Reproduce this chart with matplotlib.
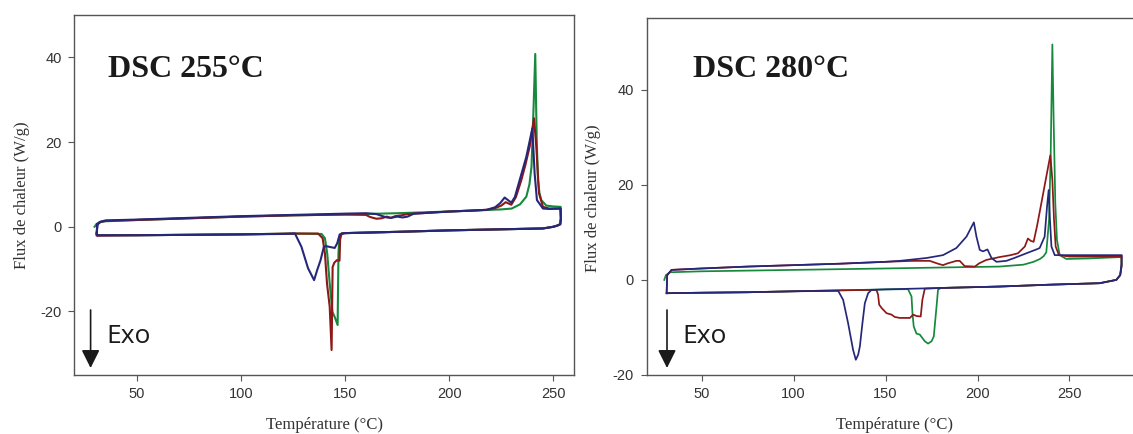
import matplotlib
matplotlib.use("Agg")
import matplotlib.pyplot as plt
from matplotlib.patches import FancyArrowPatch

plt.rcParams["axes.unicode_minus"] = False

# DSC loops, (temperature degC, heat flow W/g)
# heating branch first, then the isotherm drop, then cooling back to 30 degC

GREEN_255 = [
    (29.7, 0.0), (30.5, 0.6), (32.0, 1.1), (35, 1.3), (50, 1.6), (75, 2.0), (100, 2.4),
    (125, 2.7), (150, 2.9), (175, 3.2), (200, 3.6), (215, 3.9), (225, 4.1), (230, 4.3),
    (234, 5.3), (237, 7.1), (238.5, 10.0), (239.5, 14.2), (240.5, 28.3), (241.3, 40.8),
    (242.0, 20.5), (242.6, 11.0), (243.3, 8.0), (244.2, 6.3), (246.6, 5.0), (250, 4.8),
    (253.5, 4.7), (253.6, 2.0), (253.3, 0.6), (252, 0.3), (250, 0.0), (245, -0.4),
    (225, -0.6), (200, -0.85), (175, -1.2), (150, -1.5), (148.5, -1.5), (147.2, -2.5),
    (146.8, -6.3), (146.4, -23.2), (145.0, -21.3), (143.9, -20.1), (142.6, -13.4),
    (141.4, -6.3), (140.3, -2.7), (138.7, -1.7), (125, -1.6), (100, -1.8), (75, -1.9),
    (50, -2.0), (31, -2.0),
]
RED_255 = [
    (30.7, -2.0), (31, 0.5), (32.5, 1.1), (35, 1.4), (50, 1.6), (75, 2.0), (100, 2.4),
    (125, 2.7), (150, 2.9), (160, 2.8), (162, 2.3), (165, 1.9), (167.5, 2.0), (170, 2.4),
    (172, 2.1), (174, 2.5), (177, 2.7), (180, 3.0), (190, 3.3), (200, 3.6), (210, 3.8),
    (218, 4.0), (222, 4.4), (225, 5.0), (227.1, 5.8), (229.8, 5.2), (232, 7.0),
    (234.6, 11.0), (236.5, 14.5), (238.6, 18.9), (240.7, 25.6), (241.8, 18.9),
    (243.1, 7.9), (245, 4.7), (248, 4.3), (253.3, 4.3), (253.6, 2.0), (253.3, 0.6),
    (252, 0.3), (250, 0.0), (245, -0.4), (225, -0.6), (200, -0.85), (175, -1.2),
    (150, -1.5), (148.3, -1.6), (147.6, -3.0), (147.3, -8.0), (146.0, -7.9),
    (144.8, -8.5), (144.0, -9.5), (143.5, -29.1), (142.6, -18.9), (141.3, -13.4),
    (140.3, -6.3), (139.2, -2.7), (137, -1.6), (125, -1.6), (100, -1.8), (75, -1.9),
    (50, -2.0), (31, -2.1), (30.7, -1.6),
]
BLUE_255 = [
    (30.7, -1.8), (31, 0.6), (32.5, 1.2), (35, 1.5), (50, 1.7), (75, 2.1), (100, 2.5),
    (125, 2.8), (150, 3.1), (160, 3.2), (165, 3.0), (168, 2.5), (170, 2.2), (172, 2.1),
    (175, 2.4), (177.6, 2.2), (180, 2.4), (183, 3.1), (190, 3.3), (200, 3.6), (210, 3.8),
    (218, 4.0), (222, 4.6), (224.5, 5.6), (226.6, 6.9), (229.8, 5.7), (231.5, 7.0),
    (233.8, 11.0), (237, 16.5), (239.9, 23.2), (241, 12.6), (242.1, 6.3), (245, 4.3),
    (248, 4.2), (253.5, 4.3), (253.6, 2.0), (253.3, 0.6), (252, 0.3), (250, 0.0),
    (245, -0.4), (225, -0.6), (200, -0.85), (175, -1.2), (150, -1.5), (147.4, -1.8),
    (146.2, -3.9), (145, -5.0), (143, -4.8), (141.1, -4.6), (139.8, -4.7), (138.2, -7.9),
    (136.6, -10.2), (135.1, -12.6), (132.2, -9.8), (129, -4.7), (125.9, -1.6),
    (120, -1.7), (100, -1.8), (75, -1.9), (50, -2.0), (31, -2.0), (30.7, -1.6), (31, 0.6),
]

GREEN_280 = [
    (29.6, 0.0), (30.5, 1.0), (32.7, 1.6), (50, 1.8), (100, 2.1), (150, 2.4), (180, 2.6),
    (212, 2.8), (225, 3.2), (230.5, 3.8), (234, 4.4), (236, 5.0), (237.4, 5.8),
    (238.9, 12.6), (239.8, 26.6), (240.7, 49.5), (241.4, 33.6), (242.3, 16.1),
    (243.2, 8.4), (244.7, 5.2), (248.3, 4.4), (260, 4.5), (278.2, 4.8), (278.4, 3.0),
    (277.6, 1.0), (275.5, 0.0), (266.4, -0.7), (240, -1.0), (212, -1.4), (180, -1.7),
    (178.5, -2.1), (177.7, -5.6), (176.2, -11.9), (175, -12.9), (173.1, -13.4),
    (171.3, -12.9), (168.6, -11.5), (166.8, -11.3), (165.3, -9.8), (164.6, -7.0),
    (164.1, -3.5), (162.2, -1.95), (150, -2.0), (125, -2.2), (100, -2.4), (75, -2.6),
    (50, -2.7), (31, -2.8),
]
RED_280 = [
    (30.9, -2.8), (31.2, 1.0), (33.6, 2.1), (50, 2.4), (75, 2.8), (100, 3.1), (125, 3.4),
    (150, 3.8), (165, 4.0), (174, 4.0), (178.5, 3.4), (181.2, 3.1), (184, 3.5),
    (188.5, 4.0), (190.3, 4.0), (193, 2.9), (198.5, 2.8), (201, 3.5), (204.8, 4.2),
    (212, 4.8), (218, 5.2), (222, 5.6), (225.7, 7.0), (227.4, 8.7), (229, 8.2),
    (230.5, 8.0), (232.3, 11.2), (234.7, 16.1), (237.4, 21.7), (239.6, 26.2),
    (240.7, 21.0), (241.6, 12.6), (242.5, 7.0), (244.3, 5.2), (250, 4.9), (278.3, 4.9),
    (278.4, 3.0), (277.6, 1.0), (275.5, 0.0), (266.4, -0.7), (240, -1.0), (212, -1.4),
    (180, -1.7), (171.3, -1.85), (170, -4.2), (169.1, -7.7), (166.8, -7.6), (165, -7.3),
    (163.2, -8.0), (157.7, -8.0), (155, -7.8), (153.2, -7.3), (150.5, -7.0),
    (147.8, -5.9), (146.5, -5.2), (145.9, -3.1), (145, -2.1), (125, -2.2), (100, -2.4),
    (75, -2.6), (50, -2.7), (31, -2.8),
]
BLUE_280 = [
    (30.9, -2.8), (31.2, 1.0), (33.6, 2.1), (50, 2.4), (75, 2.8), (100, 3.1), (125, 3.4),
    (150, 3.8), (157.7, 4.0), (172.2, 4.6), (181.2, 5.2), (188.5, 6.7), (194, 9.1),
    (198, 12.1), (199.4, 9.1), (201.2, 6.3), (203, 6.0), (205.4, 6.4), (207.6, 4.6),
    (210.3, 3.8), (215.7, 4.0), (220, 4.6), (226.6, 5.6), (232, 6.4), (233.8, 6.7),
    (236.5, 9.1), (237.8, 15.4), (238.7, 18.9), (239.4, 12.6), (240.2, 7.0), (242, 5.2),
    (250, 5.2), (278.5, 5.2), (278.3, 3.5), (277.6, 1.0), (275.5, 0.0), (266.4, -0.7),
    (240, -1.0), (212, -1.4), (180, -1.7), (150, -2.0), (142.3, -2.1), (140.5, -2.8),
    (138.7, -4.9), (137.4, -9.1), (136, -14.0), (135.1, -15.7), (133.8, -16.8),
    (132.3, -14.7), (129.6, -9.1), (126.9, -4.2), (124.2, -2.3), (100, -2.4), (75, -2.6),
    (50, -2.7), (30.9, -2.8),
]

PANELS = [
    ("DSC 255\u00b0C", [GREEN_255, RED_255, BLUE_255], (20, 260), (-35, 50)),
    ("DSC 280\u00b0C", [GREEN_280, RED_280, BLUE_280], (20, 290), (-20, 55)),
]
COLORS = ["#16893c", "#8e1717", "#25287a"]
X_TICKS = [50, 100, 150, 200, 250]
Y_TICKS = [-20, 0, 20, 40]

W, H = 1133, 434
fig = plt.figure(figsize=(W / 100, H / 100), dpi=100)

# axes boxes in pixels: left, top, right, bottom
boxes = [(74.4, 15.0, 574.2, 375.0), (646.6, 18.3, 1143.0, 375.0)]
title_px = [(108.4, 76.7), (693.4, 76.7)]
exo_px = [(106.5, 343.3), (682.0, 343.3)]
arrow_x = [90.6, 667.0]
lws = [1.5, 1.25]

for i, (title, curves, xlim, ylim) in enumerate(PANELS):
    l, t, r, b = boxes[i]
    ax = fig.add_axes([l / W, 1 - b / H, (r - l) / W, (b - t) / H])
    for curve, color in zip(curves, COLORS):
        xs = [p[0] for p in curve]
        ys = [p[1] for p in curve]
        ax.plot(xs, ys, color=color, lw=lws[i], solid_joinstyle="round")
    ax.set_xlim(*xlim)
    ax.set_ylim(*ylim)
    ax.set_xticks(X_TICKS)
    ax.set_yticks(Y_TICKS)
    ax.tick_params(direction="out", length=4, width=0.8, color="#555555",
                   labelsize=10.5, labelcolor="#333333", pad=5)
    for lab in ax.get_xticklabels() + ax.get_yticklabels():
        lab.set_fontfamily("Liberation Sans")
    for side, sp in ax.spines.items():
        sp.set_color("#555555")
        sp.set_linewidth(1.0)
    if i == 1:
        ax.spines["right"].set_visible(False)

    ax.set_xlabel("Température (°C)", family="Liberation Serif", fontsize=12,
                  color="#333333", va="center")
    ax.xaxis.set_label_coords(0.5, (b - 425) / (b - t))
    ax.set_ylabel("Flux de chaleur (W/g)", family="Liberation Serif", fontsize=12,
                  color="#333333", va="center")
    yl_x = 22.0 if i == 0 else 593.3
    yl_y = 195.0 if i == 0 else 198.0
    ax.yaxis.set_label_coords((yl_x - l) / (r - l), (b - yl_y) / (b - t))

    tx, ty = title_px[i]
    fig.text(tx / W, 1 - ty / H, title, family="Liberation Serif", weight="bold",
             fontsize=23, color="#1a1a1a", va="baseline", ha="left")
    ex, ey = exo_px[i]
    fig.text(ex / W, 1 - ey / H, "Exo", family="Open Sans", fontsize=19,
             color="#1a1a1a", va="baseline", ha="left")
    fig.add_artist(FancyArrowPatch(
        (arrow_x[i], H - 310), (arrow_x[i], H - 368), transform=None,
        arrowstyle="-|>,head_length=1.0,head_width=0.5", mutation_scale=11,
        color="#1a1a1a", lw=1.2, shrinkA=0, shrinkB=0))

fig.savefig("out.png", dpi=100)
